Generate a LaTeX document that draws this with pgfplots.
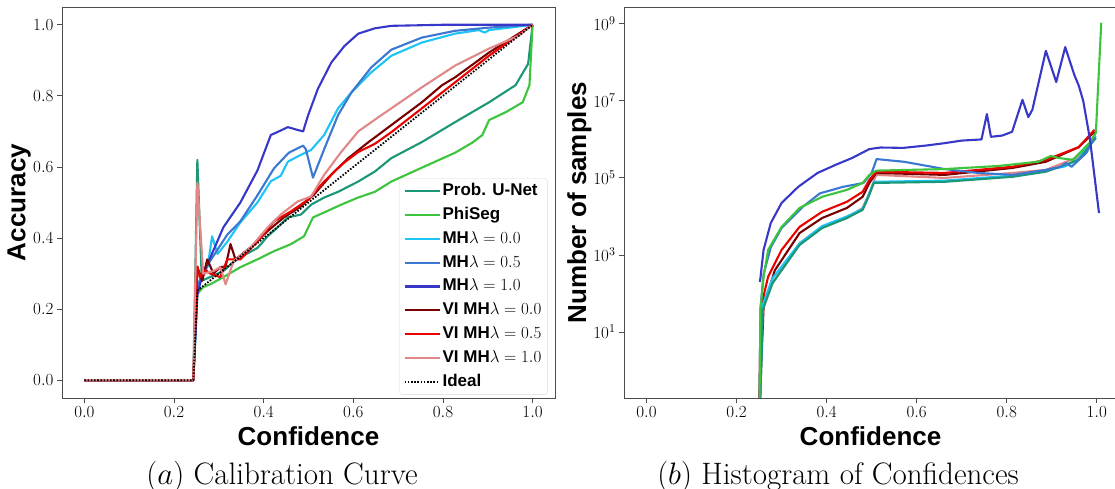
\RequirePackage{fix-cm}
\documentclass[border=0pt]{standalone}
\usepackage{fontspec}
\newfontfamily\hv{Liberation Sans}
\usepackage{pgfplots}
\pgfplotsset{compat=1.18}

\definecolor{cPU}{RGB}{27,150,118}
\definecolor{cPhi}{RGB}{60,196,60}
\definecolor{cMHa}{RGB}{30,196,245}
\definecolor{cMHb}{RGB}{58,120,210}
\definecolor{cMHc}{RGB}{55,56,200}
\definecolor{cVIa}{RGB}{120,0,0}
\definecolor{cVIb}{RGB}{235,0,0}
\definecolor{cVIc}{RGB}{226,135,135}

\newcommand\lab{\fontsize{26}{30}\selectfont\hv\bfseries}

\pgfplotsset{
  panel/.style={
    scale only axis, width=493pt, height=391pt,
    axis line style={black!70, line width=0.9pt},
    tick style={black!70, line width=0.9pt},
    tick align=outside, major tick length=5pt,
    xtick pos=bottom, ytick pos=left,
    xminorticks=false, yminorticks=false,
    tick label style={font=\fontsize{17}{20}\selectfont},
    yticklabel style={anchor=east},
    xmin=-0.05, xmax=1.05,
    xtick={0,0.2,0.4,0.6,0.8,1.0},
    xticklabels={$0.0$,$0.2$,$0.4$,$0.6$,$0.8$,$1.0$},
    xlabel={\lab Confidence},
    xlabel style={at={(axis description cs:0.5,-0.097)}, anchor=center},
    every axis plot/.append style={line width=2.1pt, line join=round},
  },
}

\begin{document}
\begin{tikzpicture}
\useasboundingbox (-62pt,-91pt) rectangle (1053pt,398pt);

% (a) calibration curve
\begin{axis}[panel,
    ymin=-0.05, ymax=1.05,
    ytick={0,0.2,0.4,0.6,0.8,1.0},
    yticklabels={$0.0$,$0.2$,$0.4$,$0.6$,$0.8$,$1.0$},
    ylabel={\lab Accuracy},
    ylabel style={at={(axis description cs:-0.087,0.5)}, anchor=center},
    legend cell align=left,
    legend image code/.code={\draw[#1] (0pt,0pt) -- (35pt,0pt);},
    legend style={at={(rel axis cs:0.985,0.008)}, anchor=south east,
                  draw=black!15, rounded corners=3pt, fill=white,
                  font=\fontsize{17}{20}\selectfont,
                  nodes={text height=12.5pt, text depth=3.5pt, inner sep=2pt},
                  row sep=3.8pt, inner xsep=4pt, inner ysep=3pt},
  ]
\addplot[cPU] coordinates {
  (0,0) (0.243,0) (0.252,0.62) (0.262,0.28) (0.28,0.29) (0.31,0.307) (0.33,0.33)
  (0.348,0.346) (0.386,0.372) (0.409,0.405) (0.431,0.43) (0.454,0.458) (0.483,0.466)
  (0.506,0.494) (0.535,0.514) (0.566,0.53) (0.611,0.559) (0.648,0.587) (0.685,0.625)
  (0.753,0.67) (0.827,0.726) (0.903,0.782) (0.962,0.83) (0.99,0.89) (1.0,1.0)};
\addlegendentry{\hv\bfseries Prob. U-Net}
\addplot[cPhi] coordinates {
  (0,0) (0.243,0) (0.252,0.243) (0.265,0.262) (0.281,0.27) (0.31,0.29) (0.348,0.318)
  (0.386,0.34) (0.423,0.363) (0.461,0.383) (0.49,0.405) (0.51,0.458) (0.535,0.472)
  (0.573,0.494) (0.611,0.514) (0.648,0.53) (0.685,0.559) (0.753,0.598) (0.827,0.64)
  (0.865,0.668) (0.888,0.69) (0.903,0.732) (0.94,0.754) (0.978,0.782) (0.993,0.83) (1.0,1.0)};
\addlegendentry{\hv\bfseries PhiSeg}
\addplot[cMHa] coordinates {
  (0,0) (0.243,0) (0.252,0.26) (0.262,0.29) (0.275,0.32) (0.285,0.405) (0.297,0.355)
  (0.319,0.39) (0.348,0.444) (0.386,0.50) (0.416,0.56) (0.438,0.575) (0.454,0.615)
  (0.483,0.634) (0.506,0.648) (0.535,0.69) (0.566,0.765) (0.596,0.81) (0.64,0.866)
  (0.685,0.913) (0.753,0.95) (0.827,0.975) (0.88,0.985) (0.893,0.978) (0.903,0.985) (1.0,1.0)};
\addlegendentry{{\hv\bfseries MH}$\lambda=0.0$}
\addplot[cMHb] coordinates {
  (0,0) (0.243,0) (0.252,0.26) (0.262,0.30) (0.288,0.35) (0.319,0.41) (0.348,0.447)
  (0.386,0.52) (0.423,0.596) (0.456,0.64) (0.488,0.66) (0.494,0.65) (0.51,0.57)
  (0.535,0.65) (0.566,0.746) (0.596,0.81) (0.64,0.88) (0.685,0.93) (0.753,0.964)
  (0.827,0.983) (0.903,0.992) (1.0,1.0)};
\addlegendentry{{\hv\bfseries MH}$\lambda=0.5$}
\addplot[cMHc] coordinates {
  (0,0) (0.243,0) (0.252,0.24) (0.262,0.29) (0.31,0.43) (0.348,0.50) (0.386,0.59)
  (0.416,0.69) (0.427,0.696) (0.454,0.712) (0.476,0.704) (0.488,0.70) (0.499,0.745)
  (0.521,0.82) (0.551,0.894) (0.58,0.94) (0.611,0.975) (0.648,0.99) (0.685,0.997)
  (0.8,1.0) (1.0,1.0)};
\addlegendentry{{\hv\bfseries MH}$\lambda=1.0$}
\addplot[cVIa] coordinates {
  (0,0) (0.243,0) (0.252,0.318) (0.263,0.28) (0.274,0.34) (0.288,0.30) (0.303,0.318)
  (0.315,0.32) (0.326,0.383) (0.337,0.34) (0.371,0.374) (0.409,0.42) (0.445,0.458)
  (0.483,0.489) (0.512,0.522) (0.551,0.578) (0.589,0.625) (0.634,0.67) (0.685,0.718)
  (0.753,0.782) (0.798,0.83) (0.827,0.852) (0.903,0.922) (1.0,1.0)};
\addlegendentry{{\hv\bfseries VI MH}$\lambda=0.0$}
\addplot[cVIb] coordinates {
  (0,0) (0.243,0) (0.252,0.32) (0.258,0.29) (0.27,0.31) (0.281,0.30) (0.303,0.29)
  (0.319,0.34) (0.348,0.34) (0.386,0.39) (0.423,0.447) (0.461,0.475) (0.499,0.508)
  (0.535,0.559) (0.573,0.606) (0.611,0.642) (0.648,0.665) (0.685,0.698) (0.753,0.765)
  (0.827,0.838) (0.903,0.913) (1.0,1.0)};
\addlegendentry{{\hv\bfseries VI MH}$\lambda=0.5$}
\addplot[cVIc] coordinates {
  (0,0) (0.243,0) (0.252,0.556) (0.265,0.30) (0.288,0.307) (0.303,0.318) (0.315,0.27)
  (0.333,0.335) (0.371,0.374) (0.409,0.43) (0.438,0.466) (0.476,0.503) (0.506,0.517)
  (0.535,0.578) (0.573,0.642) (0.611,0.70) (0.656,0.74) (0.685,0.765) (0.753,0.824)
  (0.827,0.885) (0.903,0.933) (0.97,0.97) (1.0,1.0)};
\addlegendentry{{\hv\bfseries VI MH}$\lambda=1.0$}
\addplot[black, line width=1.8pt, dash pattern=on 1.6pt off 1.6pt] coordinates {
  (0,0) (0.243,0) (0.252,0.252) (1.0,1.0)};
\addlegendentry{\hv\bfseries Ideal}
\end{axis}

% (b) histogram of confidences
\begin{axis}[panel, at={(562pt,0pt)}, anchor=south west,
    xmax=1.045,
    ymode=log, ymin=0.193, ymax=2.75e9,
    ytick={1e1,1e3,1e5,1e7,1e9},
    ylabel={\lab Number of samples},
    ylabel style={at={(axis description cs:-0.0905,0.5)}, anchor=center},
  ]
\addplot[cVIc] coordinates {
  (0.25,0.05) (0.253,7.4) (0.26,68) (0.28,186) (0.34,2040) (0.39,5370) (0.445,9100)
  (0.48,16600) (0.495,40700) (0.51,120000) (0.662,100000) (0.813,135000)
  (0.887,162000) (0.96,355000) (0.998,1.1e6)};
\addplot[cVIa] coordinates {
  (0.25,0.05) (0.26,45) (0.285,400) (0.34,3700) (0.39,9100) (0.445,16600) (0.48,32400)
  (0.495,74100) (0.51,135000) (0.662,120000) (0.813,182000) (0.887,263000)
  (0.96,631000) (0.995,1.58e6)};
\addplot[cVIb] coordinates {
  (0.25,0.05) (0.253,11) (0.258,68) (0.27,270) (0.30,1350) (0.34,5370) (0.39,13200)
  (0.445,24000) (0.48,43700) (0.495,89000) (0.51,145000) (0.662,135000)
  (0.813,195000) (0.887,295000) (0.96,631000) (0.995,1.78e6)};
\addplot[cMHa] coordinates {
  (0.25,0.01) (0.258,50) (0.28,251) (0.34,2000) (0.39,5620) (0.445,10000) (0.48,15800)
  (0.493,35500) (0.505,79400) (0.662,85100) (0.813,115000) (0.887,158000)
  (0.93,200000) (0.96,316000) (0.998,1.26e6)};
\addplot[cPU] coordinates {
  (0.25,0.01) (0.258,37) (0.28,186) (0.34,1820) (0.39,5000) (0.445,9100) (0.48,14800)
  (0.493,32400) (0.505,74100) (0.662,79400) (0.813,107000) (0.887,145000)
  (0.96,295000) (0.998,1.1e6)};
\addplot[cMHb] coordinates {
  (0.25,0.01) (0.253,40) (0.26,316) (0.276,1580) (0.30,5000) (0.347,17800) (0.385,39800)
  (0.437,58900) (0.482,74100) (0.5,135000) (0.511,309000) (0.572,263000)
  (0.662,170000) (0.736,135000) (0.813,120000) (0.887,162000) (0.92,195000)
  (0.932,245000) (0.944,195000) (0.977,447000) (0.995,1.17e6)};
\addplot[cPhi] coordinates {
  (0.25,0.01) (0.253,37) (0.26,270) (0.27,1350) (0.30,5370) (0.34,16600) (0.39,32400)
  (0.445,49000) (0.48,74100) (0.495,120000) (0.51,155000) (0.662,170000)
  (0.78,204000) (0.87,263000) (0.898,372000) (0.915,331000) (0.947,295000)
  (0.983,794000) (0.998,1.48e6) (1.01,1.07e9)};
\addplot[cMHc] coordinates {
  (0.252,200) (0.26,1350) (0.276,6760) (0.30,22400) (0.337,58900) (0.38,135000)
  (0.42,219000) (0.457,331000) (0.495,562000) (0.52,617000) (0.57,603000)
  (0.62,692000) (0.66,794000) (0.70,933000) (0.744,1e6) (0.756,4.57e6)
  (0.765,1.17e6) (0.79,1.26e6) (0.812,1.58e6) (0.835,1.07e7) (0.848,3.8e6)
  (0.857,5.9e6) (0.887,2e8) (0.91,3.1e7) (0.93,2.5e8) (0.95,4.8e7) (0.96,2.5e7)
  (0.97,1e7) (0.985,1e6) (1.005,1.23e4)};
\end{axis}

\node[font=\fontsize{31}{36}\selectfont, anchor=base] at (220pt,-86pt) {$(a)$ Calibration Curve};
\node[font=\fontsize{31}{36}\selectfont, anchor=base] at (776pt,-86pt) {$(b)$ Histogram of Confidences};
\end{tikzpicture}
\end{document}
